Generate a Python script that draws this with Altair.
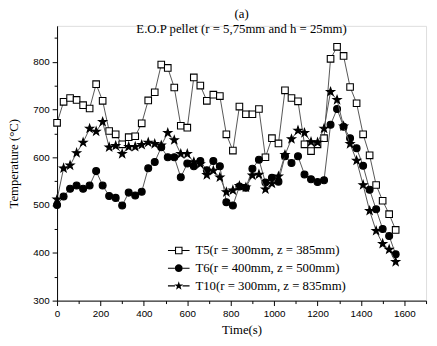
import altair as alt
import pandas as pd

time_s = [0, 30, 60, 90, 120, 150, 180, 210, 240, 270, 300, 330, 360, 390, 420, 450, 480, 510,
          540, 570, 600, 630, 660, 690, 720, 750, 780, 810, 840, 870, 900, 930, 960, 990, 1020,
          1050, 1080, 1110, 1140, 1170, 1200, 1230, 1260, 1290, 1320, 1350, 1380, 1410, 1440,
          1470, 1500, 1530, 1560]

t5 = [672, 716, 724, 720, 709, 702, 753, 718, 655, 648, 627, 642, 644, 671, 719, 736, 794, 787,
      746, 666, 662, 767, 750, 718, 731, 728, 648, 614, 706, 690, 690, 701, 600, 640, 629,
      740, 724, 717, 627, 613, 627, 640, 806, 831, 812, 747, 713, 648, 604,
      542, 509, 481, 448]

t6 = [500, 518, 534, 541, 534, 541, 571, 541, 519, 515, 499, 526, 520, 528, 577, 590, 621, 600,
      600, 558, 587, 581, 592, 573, 592, 581, 506, 499, 539, 536, 576, 595, 547, 557, 549,
      602, 588, 602, 564, 554, 548, 552, 668, 701, 664, 640, 619, 582, 532,
      491, 450, 435, 397]

t10 = [512, 577, 583, 609, 631, 660, 654, 674, 621, 624, 607, 622, 622, 626, 631, 628, 625, 651,
       636, 607, 607, 590, 586, 563, 572, 558, 527, 531, 540, 537, 562, 564, 533, 545, 560,
       605, 638, 656, 651, 632, 631, 660, 737, 720, 665, 628, 593, 542, 488,
       446, 419, 407, 381]

series_names = ["T5(r = 300mm, z = 385mm)",
                "T6(r = 400mm, z = 500mm)",
                "T10(r = 300mm, z = 835mm)"]
series_values = [t5, t6, t10]
fills = ["white", "black", "black"]

x_ticks = list(range(0, 1701, 100))
y_ticks = list(range(300, 876, 50))

STAR = ("M0,-1L0.235,-0.324L0.951,-0.309L0.38,0.124L0.588,0.809L0,0.4L-0.588,0.809"
        "L-0.38,0.124L-0.951,-0.309L-0.235,-0.324Z")
BARS = "M-1,-0.05H-0.35V0.05H-1ZM0.35,-0.05H1V0.05H0.35Z"
SQ_LEG = BARS + "M-0.35,-0.35H0.35V0.35H-0.35ZM-0.25,-0.25V0.25H0.25V-0.25Z"
CI_LEG = BARS + "M-0.36,0A0.36,0.36 0 1,0 0.36,0A0.36,0.36 0 1,0 -0.36,0Z"
STAR_LEG = (BARS + "M0,-0.43L0.101,-0.139L0.409,-0.133L0.163,0.053L0.253,0.348"
            "L0,0.172L-0.253,0.348L-0.163,0.053L-0.409,-0.133L-0.101,-0.139Z")
marker_shapes = ["square", "circle", STAR]
marker_sizes = [45, 50, 75]

rows = []
for name, vals in zip(series_names, series_values):
    for t, v in zip(time_s, vals):
        rows.append({"t": t, "temp": v, "series": name})
df = pd.DataFrame(rows)

x_scale = alt.Scale(domain=[0, 1700], nice=False, zero=False)
y_scale = alt.Scale(domain=[300, 875], nice=False, zero=False)

x_axis = alt.Axis(values=x_ticks, title="Time(s)", grid=False,
                  labelExpr="datum.value % 200 === 0 ? datum.label : ''",
                  tickSize={"condition": {"test": "datum.value % 200 === 0", "value": 5}, "value": 3},
                  labelFont="Liberation Sans", labelFontSize=10, labelColor="black",
                  titleFont="Liberation Serif", titleFontSize=13, titleFontWeight="normal",
                  titleColor="black", titlePadding=6, domainColor="black", tickColor="black",
                  labelPadding=3, labelFlush=False, format="d")
y_axis = alt.Axis(values=y_ticks, title="Temperature (°C)", grid=False,
                  labelExpr="datum.value % 100 === 0 ? datum.label : ''",
                  tickSize={"condition": {"test": "datum.value % 100 === 0", "value": 5}, "value": 3},
                  labelFont="Liberation Sans", labelFontSize=10, labelColor="black",
                  titleFont="Liberation Serif", titleFontSize=13, titleFontWeight="normal",
                  titleColor="black", titlePadding=13, domainColor="black", tickColor="black",
                  labelPadding=3, labelFlush=False, format="d")

layers = []
for i, name in enumerate(series_names):
    sub = alt.Chart(df).transform_filter(alt.datum.series == name)
    line = sub.mark_line(color="#555555", strokeWidth=1).encode(
        x=alt.X("t:Q", scale=x_scale, axis=x_axis),
        y=alt.Y("temp:Q", scale=y_scale, axis=y_axis),
    )
    pts = sub.mark_point(shape=marker_shapes[i], size=marker_sizes[i], filled=False,
                         fill=fills[i], stroke="black", strokeWidth=1.1, opacity=1).encode(
        x=alt.X("t:Q", scale=x_scale, axis=x_axis),
        y=alt.Y("temp:Q", scale=y_scale, axis=y_axis),
    )
    layers += [line, pts]

legend_df = pd.DataFrame({"series": series_names})
legend_layer = alt.Chart(legend_df).mark_point(filled=True, color="black", opacity=0).encode(
    shape=alt.Shape("series:N", sort=series_names,
                    scale=alt.Scale(domain=series_names, range=[SQ_LEG, CI_LEG, STAR_LEG]),
                    legend=alt.Legend(title=None, orient="none", legendX=113, legendY=218,
                                      symbolSize=484, symbolOpacity=1, symbolStrokeWidth=0,
                                      symbolFillColor="black",
                                      labelFont="Liberation Serif", labelFontSize=13,
                                      labelColor="black", labelOffset=6, rowPadding=-7,
                                      padding=0, labelLimit=300)),
)

chart = alt.layer(*layers, legend_layer).properties(
    width=376, height=280,
    title=alt.TitleParams(text=["(a)", "E.O.P pellet (r = 5,75mm and h = 25mm)"],
                          font="Liberation Serif", fontSize=13, fontWeight="normal",
                          color="black", anchor="middle", offset=-10, lineHeight=15),
    autosize=alt.AutoSizeParams(type="none"),
    padding={"left": 50, "top": 15, "right": 3, "bottom": 40},
).configure_view(stroke=None).configure(background="white")

chart.save("out.html", embed_options={"renderer": "svg", "actions": False})
